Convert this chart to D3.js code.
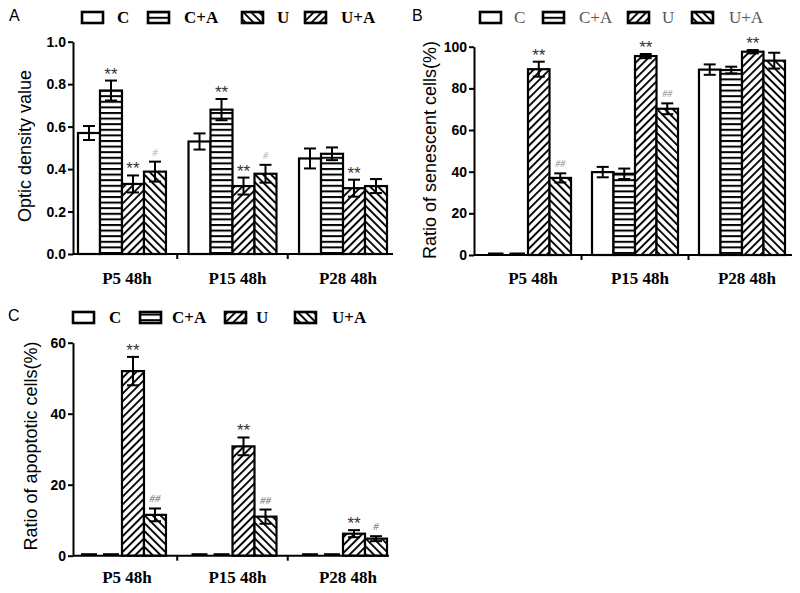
<!DOCTYPE html>
<html><head><meta charset="utf-8">
<script src="https://cdn.jsdelivr.net/npm/d3@7"></script>
<style>body{margin:0;background:#fff}svg{display:block}</style>
</head><body><svg id="c" width="800" height="593"></svg>
<script>
const groups = ["P5 48h", "P15 48h", "P28 48h"];
const seriesNames = ["C", "C+A", "U", "U+A"];

// Panel A: optic density (series x group)
const odMean = [[0.57, 0.53, 0.45], [0.77, 0.68, 0.472], [0.33, 0.32, 0.31], [0.388, 0.378, 0.32]];
const odErr = [[0.033, 0.038, 0.047], [0.047, 0.05, 0.03], [0.04, 0.04, 0.04], [0.047, 0.042, 0.033]];
const odMarks = [["", "", ""], ["**", "**", ""], ["**", "**", "**"], ["#", "#", ""]];
const odTicks = [0, 0.2, 0.4, 0.6, 0.8, 1.0];

// Panel B: senescent cells (%)
const senMean = [[0, 39.8, 89], [0, 39, 88.8], [89.2, 95.5, 97.6], [37, 70.2, 93.3]];
const senErr = [[0, 2.5, 2.5], [0, 2.5, 1.6], [3.6, 1, 0.8], [2.2, 2.6, 3.8]];
const senMarks = [["", "", ""], ["", "", ""], ["**", "**", "**"], ["##", "##", ""]];
const senTicks = [0, 20, 40, 60, 80, 100];

// Panel C: apoptotic cells (%)
const apoMean = [[0, 0, 0], [0, 0, 0], [52, 30.8, 6.2], [11.5, 11, 4.8]];
const apoErr = [[0, 0, 0], [0, 0, 0], [4, 2.5, 1], [1.8, 2, 0.7]];
const apoMarks = [["", "", ""], ["", "", ""], ["**", "**", "**"], ["##", "##", "#"]];
const apoTicks = [0, 20, 40, 60];

const svg = d3.select("#c");
const defs = svg.append("defs");
// patterns
const ph = defs.append("pattern").attr("id", "h").attr("patternUnits", "userSpaceOnUse")
  .attr("width", 10).attr("height", 5.6);
ph.append("rect").attr("width", 10).attr("height", 5.6).attr("fill", "#fff");
ph.append("line").attr("x1", 0).attr("x2", 10).attr("y1", 1).attr("y2", 1).attr("stroke", "#000").attr("stroke-width", 2);
function diag(id, ang) {
  const p = defs.append("pattern").attr("id", id).attr("patternUnits", "userSpaceOnUse")
    .attr("width", 5.6).attr("height", 10).attr("patternTransform", `rotate(${ang})`);
  p.append("rect").attr("width", 5.6).attr("height", 10).attr("fill", "#fff");
  p.append("line").attr("x1", 1).attr("x2", 1).attr("y1", 0).attr("y2", 10).attr("stroke", "#000").attr("stroke-width", 1.9);
}
diag("fs", 45);
diag("bs", -45);
const fillOf = p => p === "none" ? "#fff" : `url(#${p})`;

const barPats = ["none", "h", "fs", "bs"];
const sans = "'Liberation Sans', Arial, sans-serif";
const serif = "'Liberation Serif', 'Times New Roman', serif";

function drawPanel(cfg, mean, err, marks, ticks) {
  const g = svg.append("g");
  const y = d3.scaleLinear().domain([0, ticks[ticks.length - 1]]).range(cfg.yRange);
  const x0 = d3.scaleBand().domain(groups).range(cfg.xRange).paddingInner(cfg.padInner).paddingOuter(0);
  const x1 = d3.scaleBand().domain(seriesNames).range([0, x0.bandwidth()]);
  const bw = x1.bandwidth();
  const base = y(0);

  // bars
  seriesNames.forEach((s, si) => {
    groups.forEach((gr, gi) => {
      const v = mean[si][gi];
      const bx = x0(gr) + x1(s);
      if (v > 0) {
        g.append("rect").attr("x", bx).attr("y", y(v)).attr("width", bw).attr("height", base - y(v))
          .attr("fill", fillOf(barPats[si])).attr("stroke", "#000").attr("stroke-width", 2.2);
      } else {
        g.append("line").attr("x1", bx + 3).attr("x2", bx + bw - 3).attr("y1", base - 1.5).attr("y2", base - 1.5)
          .attr("stroke", "#000").attr("stroke-width", 2);
      }
      const e = err[si][gi];
      if (e > 0) {
        const cx = bx + bw / 2, cw = 6;
        g.append("line").attr("x1", cx).attr("x2", cx).attr("y1", y(v + e)).attr("y2", y(v - e))
          .attr("stroke", "#000").attr("stroke-width", 2);
        [v + e, v - e].forEach(t => g.append("line").attr("x1", cx - cw).attr("x2", cx + cw)
          .attr("y1", y(t)).attr("y2", y(t)).attr("stroke", "#000").attr("stroke-width", 2));
      }
      const m = marks[si][gi];
      if (m) {
        const top = y(v + e);
        const star = m[0] === "*";
        g.append("text").attr("x", bx + bw / 2).attr("y", star ? top - 1 : top - 6)
          .attr("text-anchor", "middle")
          .attr("font-family", star ? sans : serif)
          .attr("font-size", star ? 17 : cfg.hashSize)
          .attr("font-style", star ? "normal" : "italic")
          .attr("fill", star ? "#333" : cfg.hashColor)
          .text(m);
      }
    });
  });

  // y axis
  const ya = g.append("g").attr("transform", `translate(${cfg.yAxisX},0)`)
    .call(d3.axisLeft(y).tickValues(ticks).tickSize(5).tickSizeOuter(0).tickPadding(2).tickFormat(cfg.fmt));
  ya.selectAll("path,line").attr("stroke", "#000").attr("stroke-width", 2);
  ya.selectAll("text").attr("font-family", sans).attr("font-weight", "bold").attr("font-size", 14).attr("fill", "#000");

  // x axis line
  g.append("line").attr("x1", cfg.yAxisX).attr("x2", cfg.axisEnd).attr("y1", base).attr("y2", base)
    .attr("stroke", "#000").attr("stroke-width", 2);
  // separators
  for (let i = 0; i < groups.length - 1; i++) {
    const sx = (x0(groups[i]) + x0.bandwidth() + x0(groups[i + 1])) / 2;
    g.append("line").attr("x1", sx).attr("x2", sx).attr("y1", base).attr("y2", base + 5)
      .attr("stroke", "#000").attr("stroke-width", 2);
  }
  // group labels
  groups.forEach(gr => g.append("text").attr("x", x0(gr) + x0.bandwidth() / 2 + 5).attr("y", cfg.labelY)
    .attr("text-anchor", "middle").attr("font-family", serif).attr("font-weight", "bold")
    .attr("font-size", 17).text(gr));

  // y title
  g.append("text").attr("transform", `translate(${cfg.titleX},${cfg.titleY}) rotate(-90)`)
    .attr("text-anchor", "middle").attr("font-family", sans).attr("font-size", 18).text(cfg.title);

  // panel letter
  g.append("text").attr("x", cfg.letterX).attr("y", cfg.letterY).attr("font-family", sans)
    .attr("font-size", 16).text(cfg.letter);

  // legend
  seriesNames.forEach((s, i) => {
    g.append("rect").attr("x", cfg.legBox[i]).attr("y", cfg.legY).attr("width", 21).attr("height", 11)
      .attr("fill", fillOf(cfg.legPats[i])).attr("stroke", "#000").attr("stroke-width", 2.6);
    g.append("text").attr("x", cfg.legText[i]).attr("y", cfg.legY + 11).attr("font-family", serif)
      .attr("font-weight", cfg.legWeight).attr("fill", cfg.legColor).attr("font-size", 17).text(s);
  });
}

drawPanel({
  yAxisX: 73, xRange: [78, 387], padInner: 0.204, axisEnd: 393, yRange: [254, 41.7],
  fmt: d3.format(".1f"), labelY: 284, title: "Optic density value", titleX: 31, titleY: 146,
  letter: "A", letterX: 9, letterY: 21, legY: 12, legBox: [82, 148, 242, 305], legText: [117, 184, 277, 341],
  legPats: ["none", "h", "bs", "fs"], legWeight: "bold", legColor: "#000", hashColor: "#aaa", hashSize: 10
}, odMean, odErr, odMarks, odTicks);

drawPanel({
  yAxisX: 474, xRange: [485, 785], padInner: 0.196, axisEnd: 792, yRange: [255, 46.7],
  fmt: d3.format("d"), labelY: 284, title: "Ratio of senescent cells(%)", titleX: 436, titleY: 150,
  letter: "B", letterX: 412, letterY: 21, legY: 12, legBox: [480, 543, 628, 692], legText: [514, 579, 662, 729],
  legPats: ["none", "h", "fs", "bs"], legWeight: "normal", legColor: "#555", hashColor: "#888", hashSize: 10
}, senMean, senErr, senMarks, senTicks);

drawPanel({
  yAxisX: 73, xRange: [78, 387], padInner: 0.204, axisEnd: 389, yRange: [555.7, 342.7],
  fmt: d3.format("d"), labelY: 583, title: "Ratio of apoptotic cells(%)", titleX: 37, titleY: 446,
  letter: "C", letterX: 8, letterY: 321, legY: 312, legBox: [73, 140, 225, 295], legText: [109, 172, 256, 332],
  legPats: ["none", "h", "fs", "bs"], legWeight: "bold", legColor: "#000", hashColor: "#666", hashSize: 11
}, apoMean, apoErr, apoMarks, apoTicks);
</script></body></html>
